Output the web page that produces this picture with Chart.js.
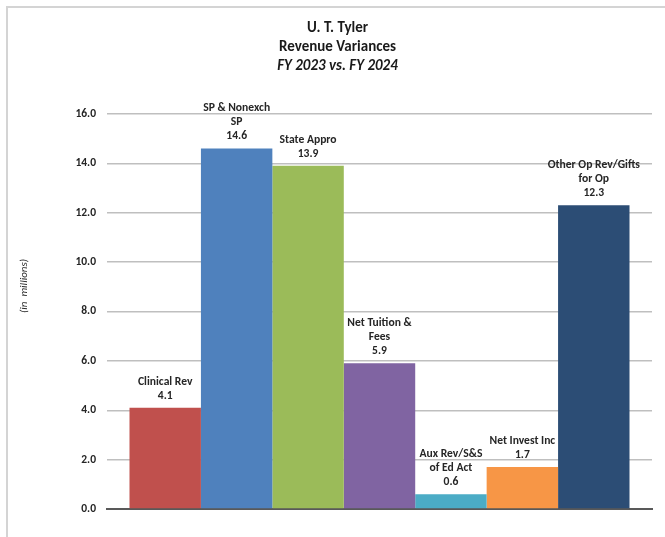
<!DOCTYPE html>
<html>
<head>
<meta charset="utf-8">
<script src="https://cdn.jsdelivr.net/npm/chart.js@4.4.1/dist/chart.umd.min.js"></script>
<style>
	body{margin:0;background:#fff;}
	#wrap{position:relative;width:665px;height:537px;overflow:hidden;}
	#frame{position:absolute;left:6px;top:6px;width:700px;height:600px;border-left:2px solid #d4d4d4;border-top:2px solid #d4d4d4;}
	canvas{position:absolute;left:0;top:0;}
</style>
</head>
<body>
<div id="wrap">
	<div id="frame"></div>
	<canvas id="chart" width="665" height="537"></canvas>
</div>
<script>
let categories = ['Clinical Rev', 'SP & Nonexch SP', 'State Appro', 'Net Tuition & Fees', 'Aux Rev/S&S of Ed Act', 'Net Invest Inc', 'Other Op Rev/Gifts for Op'];
// how each category name wraps above its bar
let labelLines = [['Clinical Rev'], ['SP & Nonexch', 'SP'], ['State Appro'], ['Net Tuition &', 'Fees'], ['Aux Rev/S&S', 'of Ed Act'], ['Net Invest Inc'], ['Other Op Rev/Gifts', 'for Op']];
let values = [4.1, 14.6, 13.9, 5.9, 0.6, 1.7, 12.3];
let colors = ['#c0504d', '#4f81bd', '#9bbb59', '#8064a2', '#4bacc6', '#f79646', '#2c4d75'];
let yTicks = [0, 2, 4, 6, 8, 10, 12, 14, 16];

let font = 'Carlito, Lato, sans-serif';
let ctx = document.getElementById('chart').getContext('2d');

let datasets = [];
for(let i = 0; i < categories.length; i++){
	datasets.push({
		label: categories[i],
		data: [values[i]],
		backgroundColor: colors[i],
		borderWidth: 0
	});
}

// category names + values above each bar, and the rotated axis note
let barLabels = {
	id: 'barLabels',
	afterDatasetsDraw(chart){
		let c = chart.ctx;
		c.save();
		c.fillStyle = '#262626';
		c.font = 'bold 11.6px ' + font;
		c.textAlign = 'center';
		c.textBaseline = 'middle';
		for(let i = 0; i < values.length; i++){
			let bar = chart.getDatasetMeta(i).data[0];
			let lines = labelLines[i].concat([values[i].toFixed(1)]);
			for(let j = 0; j < lines.length; j++){
				let y = bar.y - 12 - (lines.length - 1 - j) * 14;
				c.fillText(lines[j], bar.x, y);
			}
		}
		c.font = 'italic 11px ' + font;
		c.translate(24, 286);
		c.rotate(-Math.PI / 2);
		c.fillText('(in  millions)', 0, 0);
		c.restore();
	}
};

let chart = new Chart(ctx, {
	type: 'bar',
	data: {
		labels: [''],
		datasets: datasets
	},
	options: {
		responsive: false,
		animation: false,
		layout: {padding: {left: 23, right: 13, top: 0, bottom: 28}},
		datasets: {bar: {categoryPercentage: 500 / 545, barPercentage: 1}},
		plugins: {
			legend: {display: false},
			tooltip: {enabled: false},
			title: {
				display: true,
				text: ['U. T. Tyler', 'Revenue Variances'],
				color: '#1a1a1a',
				font: {family: font, size: 15, weight: 'bold', lineHeight: 1.25},
				padding: {top: 19, bottom: 0}
			},
			subtitle: {
				display: true,
				text: 'FY 2023 vs. FY 2024',
				color: '#1a1a1a',
				font: {family: font, size: 15, weight: 'bold', style: 'italic', lineHeight: 1.25},
				padding: {top: 0, bottom: 38.75}
			}
		},
		scales: {
			x: {
				ticks: {display: false},
				grid: {display: false, drawTicks: false},
				border: {display: true, color: '#595959', width: 2},
				afterFit(scale){ scale.height = 0; }
			},
			y: {
				min: 0,
				max: 16,
				afterBuildTicks(scale){ scale.ticks = yTicks.map(v => ({value: v})); },
				ticks: {
					padding: 11,
					color: '#262626',
					font: {family: font, size: 11.5, weight: 'bold'},
					callback: v => v.toFixed(1)
				},
				grid: {color: '#bfbfbf', lineWidth: 1.5, drawTicks: false},
				border: {display: false},
				afterFit(scale){ scale.width = 84; }
			}
		}
	},
	plugins: [barLabels]
});
</script>
</body>
</html>
